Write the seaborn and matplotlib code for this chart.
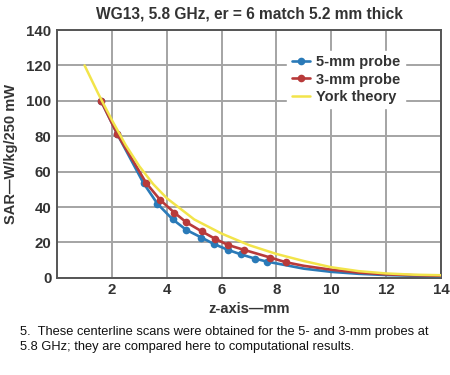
import matplotlib
matplotlib.use("Agg")
import matplotlib.pyplot as plt
import seaborn as sns
import pandas as pd

# 5-mm probe (measured points, then unmarked tail of the line)
x5 = [1.6, 2.2, 3.15, 3.66, 4.21, 4.71, 5.26, 5.71, 6.23, 6.70, 7.21, 7.65, 9, 10, 11, 12, 13, 14]
y5 = [100, 81, 53.5, 41.8, 33.1, 27.1, 22.8, 19.2, 15.8, 13.3, 10.9, 9.2, 5.2, 3.4, 2.3, 1.6, 1.2, 1.0]
n5_marked = 12

# 3-mm probe
x3 = [1.6, 2.2, 3.25, 3.76, 4.27, 4.71, 5.28, 5.77, 6.23, 6.82, 7.77, 8.35, 9, 10, 11, 12, 13, 14]
y3 = [100, 81, 53.5, 44, 36.9, 31.4, 26.2, 22, 18.6, 15.8, 11.5, 8.8, 6.8, 4.6, 3.0, 2.0, 1.5, 1.2]
n3_marked = 12

# York theory
xy = [1.0, 1.5, 2.0, 2.5, 3.0, 3.5, 4.0, 5, 6, 7, 8, 9, 10, 11, 12, 13, 14]
yy = [120, 104, 89, 75, 63, 53, 45, 33, 25, 18.5, 13.5, 9.5, 6, 3.8, 2.5, 1.8, 1.5]

labels = ["5-mm probe", "3-mm probe", "York theory"]
xticks = [2, 4, 6, 8, 10, 12, 14]
yticks = [0, 20, 40, 60, 80, 100, 120, 140]

title = "WG13, 5.8 GHz, er = 6 match 5.2 mm thick"
xlabel = "z-axis\u2014mm"
ylabel = "SAR\u2014W/kg/250 mW"
caption = ("5.  These centerline scans were obtained for the 5- and 3-mm probes at\n"
           "5.8 GHz; they are compared here to computational results.")

sns.set_theme(style="white")
plt.rcParams['font.family'] = ['Liberation Sans', 'DejaVu Sans']

fig = plt.figure(figsize=(4.5, 3.75), dpi=100)
ax = fig.add_axes([0.127, 0.259, 0.853, 0.661])

blue = "#2a7ab8"
red = "#b83a3a"
yellow = "#f2e44a"

df5 = pd.DataFrame({"x": x5, "y": y5})
df3 = pd.DataFrame({"x": x3, "y": y3})
dfy = pd.DataFrame({"x": xy, "y": yy})

sns.lineplot(data=df5, x="x", y="y", ax=ax, color=blue, lw=1.9, marker="o", ms=5.5,
             markeredgewidth=0, markevery=list(range(n5_marked)), label=labels[0], zorder=3)
sns.lineplot(data=df3, x="x", y="y", ax=ax, color=red, lw=1.9, marker="o", ms=5.5,
             markeredgewidth=0, markevery=list(range(n3_marked)), label=labels[1], zorder=4)
sns.lineplot(data=dfy, x="x", y="y", ax=ax, color=yellow, lw=1.8, label=labels[2], zorder=5)

ax.set_xlim(0, 14)
ax.set_ylim(0, 140)
ax.set_xticks(xticks)
ax.set_yticks(yticks)
ax.grid(True, color="#a4a4a4", lw=1.4)
ax.set_axisbelow(True)
for s in ax.spines.values():
    s.set_color("#555555")
    s.set_linewidth(1.4)
ax.tick_params(axis="both", length=0, labelsize=10.8, labelcolor="#333333", pad=4)
for t in ax.get_xticklabels() + ax.get_yticklabels():
    t.set_fontweight("bold")

ax.set_xlabel(xlabel, fontsize=10.5, fontweight="bold", color="#333333", labelpad=3)
ax.set_ylabel(ylabel, fontsize=10.5, fontweight="bold", color="#333333", labelpad=6)
ax.set_title(title, fontsize=11.2, fontweight="bold", color="#333333", pad=8)

leg = ax.legend(loc="upper right", bbox_to_anchor=(0.925, 0.945), frameon=True,
                facecolor="white", edgecolor="white", framealpha=1, fancybox=False,
                handlelength=1.3, handletextpad=0.4, labelspacing=0.22, borderpad=0.3,
                prop={"weight": "bold", "size": 10.5})
for t in leg.get_texts():
    t.set_color("#333333")

fig.text(20 / 450, 1 - 326 / 375, caption, fontsize=9.3, color="#111111",
         va="top", ha="left", linespacing=1.3)

fig.savefig("out.png", dpi=100)
